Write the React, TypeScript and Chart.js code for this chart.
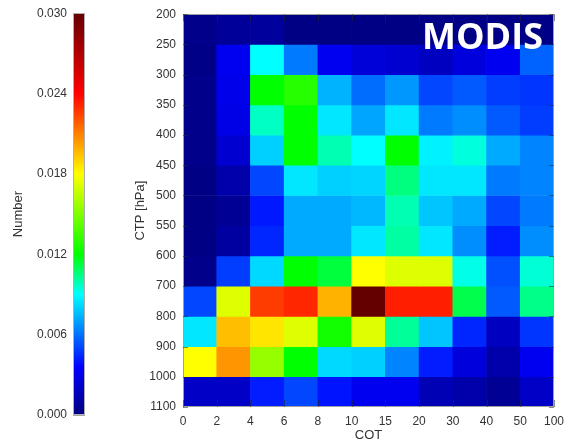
import React, { useEffect, useRef } from 'react';
import { Chart, registerables } from 'chart.js';

Chart.register(...registerables);

const FONT = "'Liberation Sans', Arial, Helvetica, sans-serif";

// COT bin edges (x) and CTP bin edges (y, hPa)
const cotLabels = ['0', '2', '4', '6', '8', '10', '15', '20', '30', '40', '50', '100'];
const ctpLabels = ['200', '250', '300', '350', '400', '450', '500', '550', '600', '700', '800', '900', '1000', '1100'];

// relative frequency per CTP bin (row, named by its upper-level edge), one value per COT bin
const r200 = [0.0003, 0.0007, 0.0008, 0.0001, 0.0001, 0.0001, 0.0001, 0.0002, 0.0002, 0.0002, 0.0002];
const r250 = [0.0002, 0.0032, 0.009, 0.0062, 0.0032, 0.0025, 0.0023, 0.0018, 0.0026, 0.0032, 0.0057];
const r300 = [0.0003, 0.003, 0.012, 0.0129, 0.0074, 0.0059, 0.0068, 0.0051, 0.0055, 0.0049, 0.0047];
const r350 = [0.0003, 0.0029, 0.0097, 0.012, 0.0085, 0.0071, 0.0085, 0.0062, 0.0066, 0.0055, 0.0049];
const r400 = [0.0003, 0.0023, 0.008, 0.012, 0.0099, 0.009, 0.012, 0.0087, 0.0094, 0.0072, 0.0064];
const r450 = [0.0001, 0.0012, 0.0051, 0.0085, 0.008, 0.0081, 0.0105, 0.0085, 0.0085, 0.0062, 0.0064];
const r500 = [0.0001, 0.0006, 0.0041, 0.0072, 0.0072, 0.0075, 0.0099, 0.0078, 0.0072, 0.0051, 0.0062];
const r550 = [0.0001, 0.0009, 0.0044, 0.0072, 0.0072, 0.0085, 0.0101, 0.0085, 0.0066, 0.0042, 0.0066];
const r600 = [0.0003, 0.0049, 0.0082, 0.012, 0.0113, 0.018, 0.0172, 0.0172, 0.0093, 0.0053, 0.0095];
const r700 = [0.0051, 0.0172, 0.0226, 0.0231, 0.0198, 0.03, 0.0233, 0.0233, 0.0111, 0.0055, 0.0104];
const r800 = [0.0085, 0.0195, 0.0186, 0.0172, 0.0124, 0.0172, 0.0102, 0.0078, 0.0044, 0.0018, 0.0047];
const r900 = [0.018, 0.0205, 0.0155, 0.012, 0.0082, 0.008, 0.0064, 0.0042, 0.0026, 0.0012, 0.0032];
const r1000 = [0.002, 0.002, 0.0042, 0.0051, 0.004, 0.0032, 0.0032, 0.0015, 0.0012, 0.0006, 0.002];

const rows = [r200, r250, r300, r350, r400, r450, r500, r550, r600, r700, r800, r900, r1000];

// colour bar
const cbMin = 0;
const cbMax = 0.03;
const cbTicks = [0, 0.006, 0.012, 0.018, 0.024, 0.03];

// colour map stops: [fraction, r, g, b]
const cmap: number[][] = [
  [0.0, 0, 0, 128],
  [0.12, 0, 0, 255],
  [0.3, 0, 255, 255],
  [0.4, 0, 255, 0],
  [0.6, 255, 255, 0],
  [0.8, 255, 0, 0],
  [1.0, 100, 0, 0],
];

function colorFor(v: number): string {
  let f = (v - cbMin) / (cbMax - cbMin);
  f = Math.max(0, Math.min(1, f));
  for (let i = 1; i < cmap.length; i++) {
    const a = cmap[i - 1];
    const b = cmap[i];
    if (f <= b[0]) {
      const t = (f - a[0]) / (b[0] - a[0]);
      const r = Math.round(a[1] + (b[1] - a[1]) * t);
      const g = Math.round(a[2] + (b[2] - a[2]) * t);
      const bl = Math.round(a[3] + (b[3] - a[3]) * t);
      return `rgb(${r},${g},${bl})`;
    }
  }
  const l = cmap[cmap.length - 1];
  return `rgb(${l[1]},${l[2]},${l[3]})`;
}

const framePlugin = {
  id: 'frame',
  afterDatasetsDraw(chart: any, _args: any, opts: any) {
    const { ctx, chartArea: a } = chart;
    ctx.save();
    ctx.strokeStyle = opts.color || '#999';
    ctx.lineWidth = 1;
    ctx.strokeRect(Math.round(a.left) + 0.5, Math.round(a.top) + 0.5, Math.round(a.right - a.left) - 1, Math.round(a.bottom - a.top) - 1);
    if (opts.ticks) {
      ctx.strokeStyle = 'rgba(40,40,40,0.55)';
      const ys = chart.scales.y;
      const xs = chart.scales.x;
      ctx.beginPath();
      ys.ticks.forEach((t: any) => {
        const p = Math.round(ys.getPixelForValue(t.value)) + 0.5;
        ctx.moveTo(a.left, p);
        ctx.lineTo(a.left + 5, p);
        ctx.moveTo(a.right, p);
        ctx.lineTo(a.right - 5, p);
      });
      xs.ticks.forEach((t: any) => {
        const p = Math.round(xs.getPixelForValue(t.value)) + 0.5;
        ctx.moveTo(p, a.bottom);
        ctx.lineTo(p, a.bottom - 7);
        ctx.moveTo(p, a.top);
        ctx.lineTo(p, a.top + 7);
      });
      ctx.stroke();
    }
    if (opts.label) {
      ctx.fillStyle = '#ffffff';
      ctx.font = "bold 36px 'Open Sans', 'DejaVu Sans', sans-serif";
      ctx.textAlign = 'right';
      ctx.textBaseline = 'alphabetic';
      ctx.fillText(opts.label, a.right - 11, a.top + 35);
    }
    ctx.restore();
  },
};

export default function App() {
  const mainRef = useRef<HTMLCanvasElement>(null);
  const barRef = useRef<HTMLCanvasElement>(null);

  useEffect(() => {
    const nCols = cotLabels.length - 1;
    const datasets = rows.map((row, i) => ({
      data: row.map((_, j) => ({ x: j + 0.5, y: [i, i + 1] })),
      backgroundColor: row.map((v) => colorFor(v)),
      borderWidth: 0,
      barPercentage: 1,
      categoryPercentage: 1,
      grouped: false,
    }));

    const main = new Chart(mainRef.current!, {
      type: 'bar',
      data: { datasets: datasets as any },
      plugins: [framePlugin],
      options: {
        animation: false,
        responsive: false,
        layout: { padding: { top: 13, right: 9, left: 0, bottom: 0 } },
        plugins: {
          legend: { display: false },
          tooltip: { enabled: false },
          frame: { color: '#a0a0a0', ticks: true, label: 'MODIS' },
        } as any,
        scales: {
          x: {
            type: 'linear',
            min: 0,
            max: nCols,
            offset: false,
            grid: { display: false, drawTicks: false },
            border: { display: false },
            afterBuildTicks: (s: any) => {
              s.ticks = cotLabels.map((_, i) => ({ value: i }));
            },
            afterFit: (s: any) => {
              s.height = 35;
            },
            ticks: {
              autoSkip: false,
              maxRotation: 0,
              padding: 7,
              color: '#333',
              font: { family: FONT, size: 12 },
              callback: (v: any) => cotLabels[Math.round(Number(v))],
            },
            title: {
              display: true,
              text: 'COT',
              color: '#333',
              font: { family: FONT, size: 13, lineHeight: 1 },
              padding: 0,
            },
          },
          y: {
            type: 'linear',
            min: 0,
            max: rows.length,
            reverse: true,
            grid: { display: false, drawTicks: false },
            border: { display: false },
            afterBuildTicks: (s: any) => {
              s.ticks = ctpLabels.map((_, i) => ({ value: i }));
            },
            afterFit: (s: any) => {
              s.width = 63;
            },
            ticks: {
              autoSkip: false,
              padding: 7,
              color: '#333',
              font: { family: FONT, size: 12 },
              callback: (v: any) => ctpLabels[Math.round(Number(v))],
            },
            title: {
              display: true,
              text: 'CTP [hPa]',
              color: '#333',
              font: { family: FONT, size: 13 },
              padding: { top: 13, bottom: 0 },
            },
          },
        },
      } as any,
    });

    const bar = new Chart(barRef.current!, {
      type: 'bar',
      data: {
        labels: ['Number'],
        datasets: [
          {
            data: [[cbMin, cbMax]] as any,
            backgroundColor: (c: any) => {
              const ch = c.chart;
              const a = ch.chartArea;
              if (!a) return 'blue';
              const g = ch.ctx.createLinearGradient(0, a.bottom, 0, a.top);
              cmap.forEach((s) => g.addColorStop(s[0], `rgb(${s[1]},${s[2]},${s[3]})`));
              return g;
            },
            borderWidth: 0,
            barPercentage: 1,
            categoryPercentage: 1,
          },
        ],
      },
      plugins: [framePlugin],
      options: {
        animation: false,
        responsive: false,
        layout: { padding: { top: 10, right: 15, left: 0, bottom: 27 } },
        plugins: {
          legend: { display: false },
          tooltip: { enabled: false },
          frame: { color: '#b0b0b0' },
        } as any,
        scales: {
          x: { display: false },
          y: {
            min: cbMin,
            max: cbMax,
            z: 1,
            grid: { drawTicks: false, color: 'rgba(0,0,0,0.35)', lineWidth: 1 },
            border: { display: false },
            afterBuildTicks: (s: any) => {
              s.ticks = cbTicks.map((v) => ({ value: v }));
            },
            afterFit: (s: any) => {
              s.width = 73;
            },
            ticks: {
              padding: 6,
              color: '#333',
              font: { family: FONT, size: 12 },
              callback: (v: any) => Number(v).toFixed(3),
            },
            title: {
              display: true,
              text: 'Number',
              color: '#333',
              font: { family: FONT, size: 13 },
              padding: { top: 11, bottom: 0 },
            },
          },
        },
      } as any,
    });

    return () => {
      main.destroy();
      bar.destroy();
    };
  }, []);

  return (
    <div style={{ position: 'fixed', left: 0, top: 0, width: 571, height: 442, background: '#fff', overflow: 'hidden' }}>
      <canvas ref={barRef} width={100} height={442} style={{ position: 'absolute', left: 0, top: 0 }} />
      <canvas ref={mainRef} width={451} height={442} style={{ position: 'absolute', left: 120, top: 0 }} />
    </div>
  );
}
